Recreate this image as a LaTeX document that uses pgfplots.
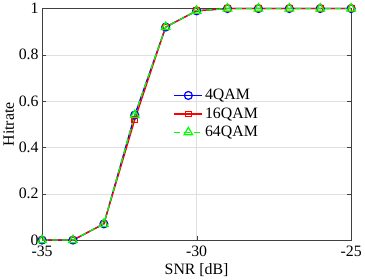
\documentclass[border=0pt]{standalone}
\usepackage{pgfplots}
\pgfplotsset{compat=1.18}
\usepackage{fontspec}
\setmainfont{Liberation Serif}
\newcommand{\bigf}{\fontsize{16}{18}\selectfont}
\begin{document}
\begin{tikzpicture}[font=\bigf]
\begin{axis}[
  scale only axis,
  width=311bp, height=233bp,
  xmin=-35, xmax=-25, ymin=0, ymax=1,
  xtick={-35,-30,-25},
  ytick={0,0.2,0.4,0.6,0.8,1},
  yticklabels={0,0.2,0.4,0.6,0.8,1},
  xticklabels={-35,-30,-25},
  tick label style={font=\bigf},
  xticklabel style={yshift=-2pt},
  label style={font=\bigf},
  grid=major,
  major grid style={gray!25, line width=0.5pt},
  axis line style={black!75, line width=0.6pt},
  tick style={black!75},
  tick align=inside,
  major tick length=4pt,
  xlabel={SNR [dB]},
  ylabel={Hitrate},
  ylabel style={yshift=-2pt},
  legend style={draw=none, fill=none, at={(0.425,0.545)}, anchor=west, row sep=2.5pt, inner sep=0pt},
  legend cell align=left,
  legend image code/.code={\draw[mark repeat=2,mark phase=2] plot coordinates {(0cm,0cm)(0.5cm,0cm)(1cm,0cm)};},
  /pgf/number format/assume math mode=true,
  clip=false,
]
\addplot[blue, line width=1.3pt, mark=o, mark size=4pt, mark options={solid, line width=1.2pt}]
  coordinates {(-35,0) (-34,0) (-33,0.07) (-32,0.54) (-31,0.92) (-30,0.99) (-29,1) (-28,1) (-27,1) (-26,1) (-25,1)};
\addlegendentry{\bigf 4QAM}
\addplot[red, line width=1.3pt, mark=square, mark size=2.8pt, mark options={solid, line width=1.2pt}]
  coordinates {(-35,0) (-34,0) (-33,0.07) (-32,0.52) (-31,0.92) (-30,0.99) (-29,1) (-28,1) (-27,1) (-26,1) (-25,1)};
\addlegendentry{\bigf 16QAM}
\addplot[green, line width=1.3pt, dash pattern=on 6pt off 4pt, mark=triangle, mark size=5pt, mark options={solid, line width=1.2pt}]
  coordinates {(-35,0) (-34,0) (-33,0.07) (-32,0.54) (-31,0.92) (-30,0.99) (-29,1) (-28,1) (-27,1) (-26,1) (-25,1)};
\addlegendentry{\bigf 64QAM}
\end{axis}
\end{tikzpicture}
\end{document}
